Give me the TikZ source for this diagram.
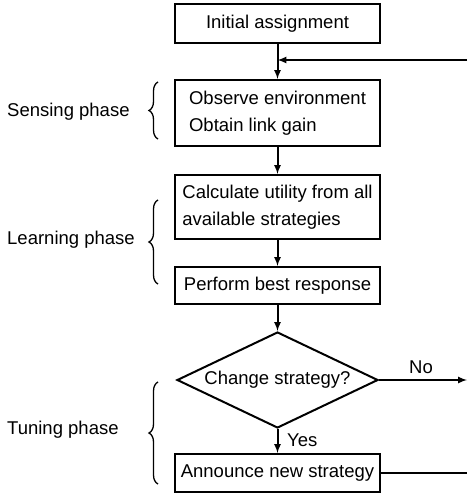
\documentclass[tikz,border=0pt]{standalone}
\usepackage{fontspec}
\setmainfont{Liberation Sans}
\usetikzlibrary{arrows}
\usetikzlibrary{shapes.geometric}
\usetikzlibrary{decorations.pathreplacing}
\tikzset{>=latex}
\def\flowwidth{2pt}
\tikzset{
  box/.style={draw, line width=\flowwidth, minimum width=205pt, inner sep=0pt, align=left},
  decision/.style={diamond, draw, line width=\flowwidth, aspect=2.1, minimum width=201pt, minimum height=96pt, inner sep=0pt},
  phase/.style={anchor=west, inner sep=0pt},
  bracket/.style={decorate, decoration={brace, amplitude=9pt}, line width=1.3pt}
}

\begin{document}
\begin{tikzpicture}[x=1pt, y=-1pt, font=\fontsize{18.5}{27.5}\selectfont]
    \useasboundingbox (0, 0) rectangle (467, 494);
    \node[box, minimum height=39pt] at (277.5, 23.5) (init) {Initial assignment};
    \node[box, minimum height=66pt] at (277.5, 113) (sense) {Observe environment\\Obtain link gain};
    \node[box, minimum height=64pt] at (277.5, 207) (calc) {Calculate utility from all\\available strategies};
    \node[box, minimum height=37pt] at (277.5, 285.5) (best) {Perform best response};
    \node[decision] at (277.5, 380) (change) {Change strategy?};
    \node[box, minimum height=38pt] at (277.5, 473) (announce) {Announce new strategy};
    \coordinate (back) at (467, 60);
    \coordinate (noend) at (467, 380);
    \coordinate (annend) at (467, 473);
    \draw[->, line width=\flowwidth] (init) -- (sense);
    \draw[->, line width=\flowwidth] (back) -- (back -| init.south);
    \draw[->, line width=\flowwidth] (sense) -- (calc);
    \draw[->, line width=\flowwidth] (calc) -- (best);
    \draw[->, line width=\flowwidth] (best) -- (change);
    \draw[->, line width=\flowwidth] (change) -- (announce);
    \draw[->, line width=\flowwidth] (change.east) -- (noend);
    \draw[line width=\flowwidth] (announce.east) -- (annend);
    \node[inner sep=0pt] at (421, 367) (no) {No};
    \node[anchor=west, inner sep=0pt] at (287, 440) (yes) {Yes};
    % phase brackets
    \draw[bracket] (158, 139) -- (158, 82);
    \draw[bracket] (158, 284) -- (158, 200);
    \draw[bracket] (158, 484) -- (158, 382);
    \node[phase] at (7, 112) (sensing) {Sensing phase};
    \node[phase] at (7, 240) (learning) {Learning phase};
    \node[phase] at (7, 430) (tuning) {Tuning phase};
\end{tikzpicture}
\end{document}
